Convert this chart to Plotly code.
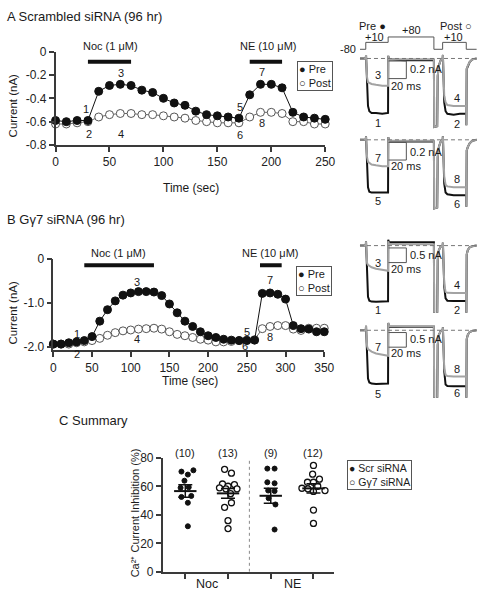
import plotly.graph_objects as go

W, H = 490, 600
FONT = "Liberation Sans, Arial, Helvetica, sans-serif"
BLACK = "#111111"
GREY = "#a3a3a3"
AXC = "#3a3a3a"


def px(x):
    return x / W


def py(y):
    return 1 - y / H


# ---------------- Panel A: time course (Scrambled siRNA) ----------------
A_time = list(range(0, 251, 10))
A_pre = [-0.59, -0.60, -0.59, -0.59, -0.34, -0.29, -0.28, -0.29, -0.33, -0.35,
         -0.40, -0.44, -0.46, -0.51, -0.54, -0.55, -0.56, -0.57, -0.37, -0.28,
         -0.28, -0.31, -0.52, -0.56, -0.57, -0.58]
A_post = [-0.62, -0.62, -0.61, -0.60, -0.56, -0.54, -0.53, -0.53, -0.54, -0.54,
          -0.55, -0.56, -0.57, -0.59, -0.60, -0.61, -0.61, -0.61, -0.56, -0.52,
          -0.52, -0.53, -0.60, -0.60, -0.62, -0.62]
A_noc = [30, 70]
A_ne = [180, 210]
A_xticks = [0, 50, 100, 150, 200, 250]
A_yticks = [0, -0.2, -0.4, -0.6, -0.8]
A_yticktext = ["0", "-0.2", "-0.4", "-0.6", "-0.8"]

# ---------------- Panel B: time course (Gγ7 siRNA) ----------------
B_time = list(range(0, 351, 10))
B_pre = [-1.93, -1.93, -1.90, -1.88, -1.85, -1.76, -1.41, -1.15, -0.95, -0.82,
         -0.77, -0.74, -0.74, -0.75, -0.83, -1.02, -1.22, -1.41, -1.53, -1.65,
         -1.74, -1.78, -1.82, -1.84, -1.85, -1.85, -1.84, -0.78, -0.77, -0.80,
         -0.91, -1.51, -1.58, -1.59, -1.65, -1.65]
B_post = [-1.93, -1.93, -1.93, -1.90, -1.88, -1.85, -1.80, -1.73, -1.67, -1.63,
          -1.61, -1.59, -1.58, -1.57, -1.59, -1.65, -1.71, -1.74, -1.78, -1.82,
          -1.84, -1.88, -1.88, -1.87, -1.85, -1.84, -1.83, -1.58, -1.53, -1.51,
          -1.51, -1.59, -1.62, -1.57, -1.57, -1.57]
B_noc = [40, 130]
B_ne = [267, 295]
B_xticks = [0, 50, 100, 150, 200, 250, 300, 350]
B_yticks = [0, -1.0, -2.0]
B_yticktext = ["0", "-1.0", "-2.0"]

# ---------------- Current sweeps (ms, nA) ----------------
sweep_t = [0, 6.5, 6.8, 7.3, 8.0, 9.0, 10.5, 13, 18, 25, 31.5, 31.7, 32.5, 50, 70,
           82.9, 83.2, 86.6, 87.2, 88.5, 90.5, 92.7, 93.0, 93.6, 94.5, 96, 98,
           105, 112, 119.2, 119.3, 119.7, 121, 123, 126, 131]
A_ctl_1_2 = [0, 0, 0.04, -0.1, -0.4, -0.54, -0.6, -0.62, -0.62, -0.63, -0.62, 0.03,
             -0.01, -0.02, -0.02, -0.02, -0.78, -0.77, -0.2, -0.08, -0.02, 0, 0.04,
             -0.2, -0.5, -0.6, -0.63, -0.64, -0.63, -0.63, -0.76, -0.12, -0.08,
             -0.04, -0.01, 0]
A_noc_3_4 = [0, 0, 0.04, -0.08, -0.22, -0.27, -0.28, -0.29, -0.3, -0.31, -0.31, 0.03,
             -0.01, -0.01, -0.01, -0.01, -0.78, -0.77, -0.2, -0.08, -0.02, 0, 0.04,
             -0.2, -0.42, -0.5, -0.53, -0.54, -0.54, -0.54, -0.76, -0.12, -0.08,
             -0.04, -0.01, 0]
A_ctl_5_6 = [0, 0, 0.04, -0.1, -0.4, -0.54, -0.59, -0.6, -0.6, -0.6, -0.6, 0.03,
             -0.01, -0.02, -0.02, -0.02, -0.78, -0.77, -0.2, -0.08, -0.02, 0, 0.04,
             -0.2, -0.5, -0.6, -0.62, -0.63, -0.63, -0.63, -0.76, -0.12, -0.08,
             -0.04, -0.01, 0]
A_ne_7_8 = [0, 0, 0.04, -0.08, -0.2, -0.25, -0.26, -0.28, -0.29, -0.3, -0.3, 0.03,
            -0.01, -0.01, -0.01, -0.01, -0.78, -0.77, -0.2, -0.08, -0.02, 0, 0.04,
            -0.2, -0.42, -0.51, -0.53, -0.54, -0.54, -0.54, -0.76, -0.12, -0.08,
            -0.04, -0.01, 0]
B_ctl_1_2 = [0, 0, 0.15, -0.3, -1.3, -1.75, -1.88, -1.91, -1.92, -1.91, -1.9, 0.2,
             0.12, 0.11, 0.11, 0.11, -2.4, -2.4, -0.5, -0.15, -0.03, 0, 0.1, -0.5,
             -1.4, -1.8, -1.88, -1.89, -1.89, -1.89, -2.4, -0.3, -0.15, -0.06,
             -0.02, 0]
B_noc_3_4 = [0, 0, 0.15, -0.25, -0.6, -0.66, -0.7, -0.74, -0.79, -0.83, -0.86, 0.15,
             0.06, 0.05, 0.05, 0.05, -2.4, -2.4, -0.5, -0.15, -0.03, 0, 0.1, -0.5,
             -1.3, -1.58, -1.61, -1.62, -1.62, -1.62, -2.4, -0.3, -0.15, -0.06,
             -0.02, 0]
B_ctl_5_6 = [0, 0, 0.15, -0.3, -1.2, -1.65, -1.78, -1.82, -1.83, -1.82, -1.82, 0.25,
             0.13, 0.12, 0.12, 0.12, -2.4, -2.4, -0.5, -0.15, -0.03, 0, 0.1, -0.5,
             -1.4, -1.85, -1.9, -1.91, -1.91, -1.91, -2.4, -0.3, -0.15, -0.06,
             -0.02, 0]
B_ne_7_8 = [0, 0, 0.15, -0.25, -0.55, -0.64, -0.68, -0.73, -0.79, -0.84, -0.87, 0.25,
            0.15, 0.14, 0.14, 0.14, -2.4, -2.4, -0.5, -0.15, -0.03, 0, 0.1, -0.5,
            -1.3, -1.52, -1.56, -1.58, -1.58, -1.58, -2.4, -0.3, -0.15, -0.06,
            -0.02, 0]
sweep_end = 131
# voltage protocol (ms, mV)
proto_t = [0, 6.5, 31.6, 82.9, 92.7, 119.2, 131]
proto_mv = [-80, 10, 80, -80, 10, -80, -80]
scale_ms = 20
scale_nA_A = 0.2
scale_nA_B = 0.5

# ---------------- Panel C: summary ----------------
C_pos = [1, 2, 3, 4]
C_scr_noc = [70.4, 68.3, 71.3, 64.0, 59.0, 59.4, 52.6, 53.3, 48.5, 32.0]
C_scr_noc_dx = [-0.09, 0.06, 0.19, -0.02, -0.11, 0.08, -0.09, 0.14, 0.06, 0.06]
C_g7_noc = [72.0, 69.3, 61.7, 60.1, 61.3, 59.0, 58.3, 58.3, 54.9, 45.3, 48.5, 35.9, 30.4]
C_g7_noc_dx = [-0.08, 0.08, -0.13, 0.0, 0.15, -0.2, -0.05, 0.21, 0.06, -0.08, 0.08, 0.0, 0.0]
C_scr_ne = [72.5, 72.5, 62.9, 62.2, 57.1, 56.7, 51.7, 47.3, 29.7]
C_scr_ne_dx = [-0.08, 0.09, -0.08, 0.09, -0.06, 0.09, -0.05, 0.11, 0.09]
C_g7_ne = [74.7, 68.6, 65.1, 62.9, 62.9, 58.7, 58.3, 60.1, 57.1, 56.5, 43.4, 34.0]
C_g7_ne_dx = [0.0, -0.02, 0.14, -0.14, 0.0, -0.27, -0.13, 0.10, 0.27, 0.0, 0.0, 0.0]
C_mean = [56.7, 55.1, 53.4, 58.6]
C_sem = [4.4, 3.4, 5.3, 3.2]
C_cat = ["Noc", "NE"]
C_yticks = [0, 20, 40, 60, 80]

fig = go.Figure()


def tline(x, y, xa, ya, color, width, shape="linear", dash="solid"):
    fig.add_trace(go.Scatter(x=x, y=y, xaxis=xa, yaxis=ya, mode="lines",
                             line=dict(color=color, width=width, shape=shape, dash=dash),
                             showlegend=False, hoverinfo="skip"))


def markers(x, y, xa, ya, filled, size, lw=1.0, lc=None):
    fig.add_trace(go.Scatter(
        x=x, y=y, xaxis=xa, yaxis=ya, mode="markers", cliponaxis=False,
        marker=dict(size=size, color=BLACK if filled else "white",
                    line=dict(width=lw, color=lc or (BLACK if filled else "#555"))),
        showlegend=False, hoverinfo="skip"))


# time courses
tline(A_time, A_post, "x", "y", "#666", 1)
markers(A_time, A_post, "x", "y", False, 8)
tline(A_time, A_pre, "x", "y", BLACK, 1)
markers(A_time, A_pre, "x", "y", True, 8)

tline(B_time, B_post, "x2", "y2", "#666", 1)
markers(B_time, B_post, "x2", "y2", False, 8)
tline(B_time, B_pre, "x2", "y2", BLACK, 1)
markers(B_time, B_pre, "x2", "y2", True, 8)

# current sweeps
panels = [("x4", "y4", A_ctl_1_2, A_noc_3_4), ("x5", "y5", A_ctl_5_6, A_ne_7_8),
          ("x6", "y6", B_ctl_1_2, B_noc_3_4), ("x7", "y7", B_ctl_5_6, B_ne_7_8)]
for xa, ya, ctl, drug in panels:
    tline(sweep_t, ctl, xa, ya, BLACK, 2)
    tline(sweep_t, drug, xa, ya, GREY, 2)

# protocol
tline(proto_t, proto_mv, "x8", "y8", "#555", 1, shape="hv")

# summary points
groups = [(C_scr_noc, C_scr_noc_dx, True), (C_g7_noc, C_g7_noc_dx, False),
          (C_scr_ne, C_scr_ne_dx, True), (C_g7_ne, C_g7_ne_dx, False)]
for pos, (vals, dx, filled) in zip(C_pos, groups):
    xs = [pos + d for d in dx]
    if filled:
        markers(xs, vals, "x3", "y3", True, 5)
    else:
        markers(xs, vals, "x3", "y3", False, 6, lw=1.3, lc=BLACK)
fig.add_trace(go.Scatter(
    x=C_pos, y=C_mean, xaxis="x3", yaxis="y3", mode="markers", cliponaxis=False,
    marker=dict(symbol="line-ew", size=16, line=dict(width=2, color=BLACK)),
    error_y=dict(type="data", array=C_sem, thickness=1.5, width=7, color=BLACK),
    showlegend=False, hoverinfo="skip"))


def axis(**kw):
    d = dict(showline=True, linecolor=AXC, linewidth=1.5, ticks="outside", ticklen=5,
             tickwidth=1.5, tickcolor=AXC, showgrid=False, zeroline=False,
             tickfont=dict(size=12, color="#222", family=FONT), fixedrange=True)
    d.update(kw)
    return d


def hidden(**kw):
    d = dict(visible=False, fixedrange=True, showgrid=False, zeroline=False)
    d.update(kw)
    return d


def yrange(zero_px, top_px, bot_px, px_per_unit):
    return [-(bot_px - zero_px) / px_per_unit, (zero_px - top_px) / px_per_unit]


layout = dict(
    width=W, height=H, autosize=False,
    margin=dict(l=0, r=0, t=0, b=0),
    paper_bgcolor="white", plot_bgcolor="rgba(0,0,0,0)",
    font=dict(family=FONT, size=12, color="#1a1a1a"),
    showlegend=False,
    xaxis=axis(domain=[px(54), px(331)], range=[0, 250], anchor="y", tickvals=A_xticks),
    yaxis=axis(domain=[py(141.3), py(45.7)], range=[-0.8, 0], anchor="x",
               tickvals=A_yticks, ticktext=A_yticktext),
    xaxis2=axis(domain=[px(51.7), px(330)], range=[0, 350], anchor="y2", tickvals=B_xticks),
    yaxis2=axis(domain=[py(351.7), py(258)], range=[-2.075, 0], anchor="x2",
                tickvals=B_yticks, ticktext=B_yticktext),
    xaxis3=axis(domain=[px(164), px(340)], range=[0.47, 4.48], anchor="y3",
                tickvals=C_pos, showticklabels=False),
    yaxis3=axis(domain=[py(578.3), py(461.7)], range=[0, 80], anchor="x3",
                tickvals=C_yticks),
)
sweep_dom = [px(366.7), px(486.7)]
for i in range(4, 9):
    layout[f"xaxis{i}"] = hidden(domain=sweep_dom, range=[0, sweep_end], anchor=f"y{i}")
layout["yaxis4"] = hidden(domain=[py(130), py(45)], range=yrange(52.7, 45, 130, 90), anchor="x4")
layout["yaxis5"] = hidden(domain=[py(215), py(128)], range=yrange(136, 128, 215, 90), anchor="x5")
layout["yaxis6"] = hidden(domain=[py(313), py(236)], range=yrange(244.3, 236, 313, 30), anchor="x6")
layout["yaxis7"] = hidden(domain=[py(400), py(322)], range=yrange(331, 322, 400, 30), anchor="x7")
layout["yaxis8"] = hidden(domain=[py(46), py(28)], range=yrange(43.3 - 80 * 0.0788, 28, 46, 0.0788),
                          anchor="x8")
fig.update_layout(**layout)

shapes = []
# drug application bars
for xref, (t0, t1), ypx in [("x", A_noc, 56), ("x", A_ne, 56), ("x2", B_noc, 264.3), ("x2", B_ne, 264.3)]:
    shapes.append(dict(type="line", xref=xref, yref="paper", x0=t0, x1=t1, y0=py(ypx), y1=py(ypx),
                       line=dict(color=BLACK, width=4)))
# zero current dashed lines
for i in range(4, 8):
    shapes.append(dict(type="line", xref=f"x{i} domain", yref=f"y{i}", x0=0, x1=1, y0=0, y1=0,
                       line=dict(color="#777", width=1, dash="4px,3px")))
# scale bars
for i, nA, ybot in [(4, scale_nA_A, -0.229), (5, scale_nA_A, -0.23), (6, scale_nA_B, -0.58), (7, scale_nA_B, -0.577)]:
    x0 = 32
    shapes.append(dict(type="path", xref=f"x{i}", yref=f"y{i}",
                       path=f"M {x0},{ybot + nA} L {x0 + scale_ms},{ybot + nA} L {x0 + scale_ms},{ybot} L {x0},{ybot}",
                       line=dict(color="#555", width=1)))
# dashed divider in summary
shapes.append(dict(type="line", xref="x3", yref="y3", x0=2.5, x1=2.5, y0=0, y1=78,
                   line=dict(color="#888", width=1, dash="3px,3px")))
fig.update_layout(shapes=shapes)

ann = []


def txt(x, y, s, size=12, xanchor="center", angle=0, **kw):
    d = dict(x=px(x), y=py(y), xref="paper", yref="paper", text=s, showarrow=False,
             font=dict(size=size, family=FONT, color="#1a1a1a"), xanchor=xanchor,
             yanchor="middle", textangle=angle)
    d.update(kw)
    ann.append(d)


txt(2, 10, "A Scrambled siRNA (96 hr)", 13, "left")
txt(2, 218, "B Gγ7 siRNA (96 hr)", 13, "left")
txt(55, 423, "C Summary", 13, "left")

# axis titles
txt(10, 101, "Current (nA)", 11.5, angle=-90)
txt(10, 313, "Current (nA)", 11.5, angle=-90)
txt(193, 185, "Time (sec)", 12)
txt(192, 382.7, "Time (sec)", 12)
txt(135, 518, "Ca²⁺ Current Inhibition (%)", 11, angle=-90)

# drug labels
txt(110.5, 40, "Noc (1 μM)", 11)
txt(272.5, 40, "NE (10 μM)", 11)
txt(118.3, 251.7, "Noc (1 μM)", 11)
txt(274, 251.7, "NE (10 μM)", 11)

# time course numbers
for s, x, y in [("1", 85, 104), ("2", 88, 130), ("3", 121, 68), ("4", 121, 130),
                ("5", 243, 102), ("6", 243, 131), ("7", 266, 67), ("8", 266, 119),
                ("1", 76, 335), ("2", 76, 355), ("3", 138, 282), ("4", 138, 340),
                ("5", 250.7, 332.7), ("6", 248.3, 346.7), ("7", 274, 280), ("8", 274, 338.3)]:
    txt(x, y, s, 11)

# sweep numbers
for s, x, y in [("3", 385, 70), ("1", 385, 118.3), ("4", 466, 92.7), ("2", 466, 119.3),
                ("7", 385, 154.3), ("5", 385, 198.3), ("8", 466, 176), ("6", 466, 201.7),
                ("3", 385, 261.7), ("1", 385, 310), ("4", 466.7, 285), ("2", 466.7, 310),
                ("7", 385, 348.3), ("5", 385, 396), ("8", 466.7, 370.7), ("6", 466.7, 395)]:
    txt(x, y, s, 11)

# scale bar labels
for lab, y1, y2 in [("0.2 nA", 63.3, 80.7), ("0.2 nA", 148.3, 163.3),
                    ("0.5 nA", 254, 268.3), ("0.5 nA", 340, 354.3)]:
    txt(416.5, y1, lab, 11, "left")
    txt(397, y2, "20 ms", 11, "left")

# protocol labels
txt(379.5, 19.3, "Pre ●", 11)
txt(465.8, 19.3, "Post ○", 11)
txt(382, 30.7, "+10", 11)
txt(462.8, 30.7, "+10", 11)
txt(420, 24, "+80", 11)
txt(365, 43.3, "-80", 11, "right")

# legends
leg_kw = dict(bordercolor="#555", borderwidth=1, borderpad=1, bgcolor="white", align="left",
              yanchor="top")
txt(302, 55, "● Pre<br>○ Post", 11, "left", **leg_kw)
txt(301, 265, "● Pre<br>○ Post", 11, "left", **leg_kw)
txt(353, 464, "● Scr siRNA<br>○ Gγ7 siRNA", 10.5, "left", **leg_kw)

# summary texts
groups_n = [len(C_scr_noc), len(C_g7_noc), len(C_scr_ne), len(C_g7_ne)]
for pos, n in zip(C_pos, groups_n):
    ann.append(dict(x=pos, y=py(456.7), xref="x3", yref="paper", text=f"({n})", showarrow=False,
                    font=dict(size=11, family=FONT, color="#1a1a1a"), yanchor="middle"))
for lab, xc in zip(C_cat, [1.5, 3.5]):
    ann.append(dict(x=xc, y=py(590.5), xref="x3", yref="paper", text=lab, showarrow=False,
                    font=dict(size=12.5, family=FONT, color="#1a1a1a"), yanchor="middle"))

fig.update_layout(annotations=ann)
fig.write_html("out.html", config={"displayModeBar": False},
               post_script="document.body.style.margin='0';")
